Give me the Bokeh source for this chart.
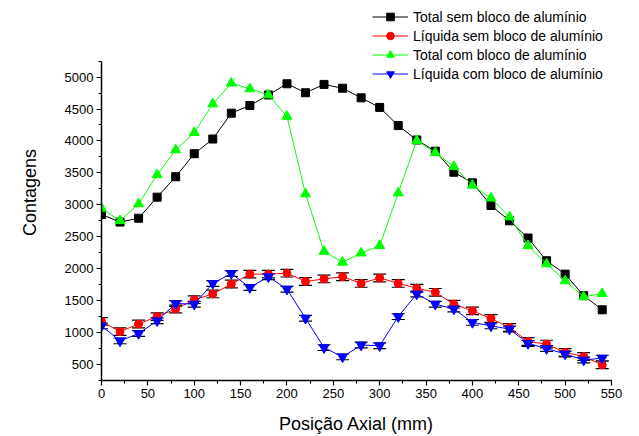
from bokeh.plotting import figure
from bokeh.models import (Range1d, SingleIntervalTicker, Legend, LegendItem,
                          Whisker, TeeHead, ColumnDataSource)
from bokeh.embed import file_html
from bokeh.resources import INLINE

# ---- data ----
posicao = [0, 20, 40, 60, 80, 100, 120, 140, 160, 180, 200, 220, 240, 260,
           280, 300, 320, 340, 360, 380, 400, 420, 440, 460, 480, 500, 520, 540]

total_sem = [2850, 2730, 2790, 3120, 3440, 3800, 4030, 4435, 4555, 4720, 4895, 4755, 4885, 4825,
             4675, 4525, 4240, 4015, 3840, 3510, 3345, 2990, 2750, 2480, 2125, 1915, 1578, 1357]

liquida_sem = [1175, 1015, 1135, 1250, 1370, 1515, 1605, 1760, 1915, 1915, 1930, 1800, 1840, 1875,
               1770, 1855, 1770, 1695, 1630, 1445, 1340, 1220, 1080, 860, 820, 690, 625, 495]
erro_liquida_sem = [60, 60, 60, 60, 60, 60, 60, 60, 60, 60, 60, 60, 60, 60,
                    60, 60, 60, 60, 60, 60, 60, 60, 60, 60, 60, 60, 60, 60]

total_com = [2945, 2750, 3015, 3470, 3860, 4130, 4580, 4905, 4815, 4720, 4385, 3170, 2270, 2100,
             2245, 2360, 3185, 4005, 3815, 3600, 3305, 3105, 2810, 2360, 2075, 1810, 1560, 1610]

liquida_com = [1105, 870, 985, 1185, 1455, 1445, 1770, 1925, 1705, 1875, 1680, 1225, 765, 620,
               805, 795, 1250, 1605, 1445, 1370, 1160, 1105, 1055, 830, 750, 665, 570, 600]
erro_liquida_com = [45, 45, 45, 45, 45, 45, 45, 45, 45, 45, 45, 45, 45, 45,
                    45, 45, 45, 45, 45, 45, 45, 45, 45, 45, 45, 45, 45, 45]

labels = ["Total sem bloco de alumínio", "Líquida sem bloco de alumínio",
          "Total com bloco de alumínio", "Líquida com bloco de alumínio"]

y_axis_min, y_axis_max = 250, 5250

FONT = "Liberation Sans"

p = figure(width=639, height=436, output_backend="svg", toolbar_location=None,
           x_range=Range1d(0, 550), y_range=Range1d(y_axis_min, 6136),
           min_border_left=101, min_border_right=28, min_border_top=4, min_border_bottom=56)
p.outline_line_color = None
p.xgrid.visible = False
p.ygrid.visible = False
p.background_fill_color = "white"
p.border_fill_color = "white"

p.xaxis.ticker = SingleIntervalTicker(interval=50, num_minor_ticks=2)
p.yaxis.ticker = SingleIntervalTicker(interval=500, num_minor_ticks=2)
p.yaxis.bounds = (y_axis_min, y_axis_max)
for ax in (p.xaxis, p.yaxis):
    ax.axis_line_width = 1.5
    ax.axis_line_color = "black"
    ax.major_tick_line_color = "black"
    ax.minor_tick_line_color = "black"
    ax.major_tick_line_width = 1.2
    ax.minor_tick_line_width = 1.0
    ax.major_tick_out = 5
    ax.major_tick_in = 0
    ax.minor_tick_out = 3
    ax.minor_tick_in = 0
    ax.major_label_text_font = FONT
    ax.major_label_text_font_size = "13px"
    ax.major_label_text_color = "black"
    ax.axis_label_text_font = FONT
    ax.axis_label_text_font_size = "18px"
    ax.axis_label_text_font_style = "normal"
    ax.axis_label_text_color = "black"
    ax.major_label_standoff = 3

p.xaxis.axis_label = "Posição Axial (mm)"
p.yaxis.axis_label = "Contagens"
p.xaxis.axis_label_standoff = 13
p.yaxis.axis_label_standoff = 22

src1 = ColumnDataSource(dict(x=posicao, y=total_sem))
src2 = ColumnDataSource(dict(x=posicao, y=liquida_sem,
                             up=[v + e for v, e in zip(liquida_sem, erro_liquida_sem)],
                             lo=[v - e for v, e in zip(liquida_sem, erro_liquida_sem)]))
src3 = ColumnDataSource(dict(x=posicao, y=total_com))
src4 = ColumnDataSource(dict(x=posicao, y=liquida_com,
                             up=[v + e for v, e in zip(liquida_com, erro_liquida_com)],
                             lo=[v - e for v, e in zip(liquida_com, erro_liquida_com)]))

# black: total sem
l1 = p.line("x", "y", source=src1, line_color="black", line_width=1)
m1 = p.scatter("x", "y", source=src1, marker="square", size=8, fill_color="black", line_color="black")

# red: liquida sem
w2 = Whisker(source=src2, base="x", upper="up", lower="lo", line_color="black", line_width=1,
             upper_head=TeeHead(size=13, line_color="black", line_width=1.2),
             lower_head=TeeHead(size=13, line_color="black", line_width=1.2))
p.add_layout(w2)
l2 = p.line("x", "y", source=src2, line_color="#ff0000", line_width=1)
m2 = p.scatter("x", "y", source=src2, marker="circle", size=8, fill_color="#ff0000", line_color="#ff0000")

# green: total com
l3 = p.line("x", "y", source=src3, line_color="#00ff00", line_width=1)
m3 = p.scatter("x", "y", source=src3, marker="triangle", size=10, fill_color="#00ff00", line_color="#00ff00")

# blue: liquida com
w4 = Whisker(source=src4, base="x", upper="up", lower="lo", line_color="black", line_width=1,
             upper_head=TeeHead(size=13, line_color="black", line_width=1.2),
             lower_head=TeeHead(size=13, line_color="black", line_width=1.2))
p.add_layout(w4)
l4 = p.line("x", "y", source=src4, line_color="#0000ff", line_width=1)
m4 = p.scatter("x", "y", source=src4, marker="inverted_triangle", size=10, fill_color="#0000ff", line_color="#0000ff")

legend = Legend(items=[LegendItem(label=labels[0], renderers=[l1, m1]),
                       LegendItem(label=labels[1], renderers=[l2, m2]),
                       LegendItem(label=labels[2], renderers=[l3, m3]),
                       LegendItem(label=labels[3], renderers=[l4, m4])],
                location=(271, 297), padding=0, margin=0, spacing=0,
                glyph_width=36, glyph_height=19, label_height=19, label_standoff=5,
                border_line_color=None, background_fill_alpha=0,
                label_text_font=FONT, label_text_font_size="14px", label_text_color="black")
p.add_layout(legend, "center")

open("out.html", "w").write(file_html(p, INLINE))
